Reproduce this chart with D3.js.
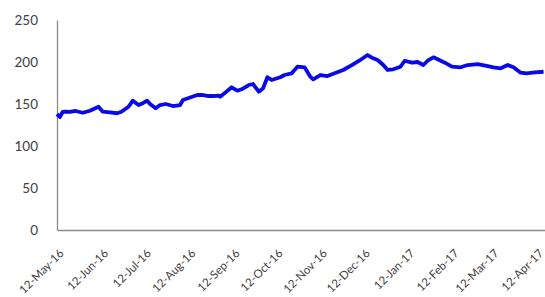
<!DOCTYPE html>
<html>
<head>
<meta charset="utf-8">
<script src="https://cdn.jsdelivr.net/npm/d3@7"></script>
<style>
  body { margin: 0; background: #fff; }
  svg text { font-family: Lato, "Open Sans", sans-serif; }
</style>
</head>
<body>
<svg width="545" height="297"></svg>
<script>
// dates and prices
const dates = [
  "2016-05-12","2016-05-14","2016-05-16","2016-05-18","2016-05-21","2016-05-25","2016-05-30",
  "2016-06-04","2016-06-10","2016-06-13","2016-06-18","2016-06-23","2016-06-26",
  "2016-07-01","2016-07-04","2016-07-08","2016-07-11","2016-07-14","2016-07-16","2016-07-20","2016-07-23","2016-07-27",
  "2016-08-01","2016-08-06","2016-08-08","2016-08-13","2016-08-18","2016-08-22","2016-08-26","2016-08-29",
  "2016-09-02","2016-09-03","2016-09-06","2016-09-11","2016-09-15","2016-09-18","2016-09-23","2016-09-26","2016-09-30",
  "2016-10-03","2016-10-06","2016-10-09","2016-10-15","2016-10-18","2016-10-23","2016-10-27",
  "2016-11-01","2016-11-05","2016-11-07","2016-11-12","2016-11-17","2016-11-22","2016-11-28",
  "2016-12-04","2016-12-10","2016-12-15","2016-12-19","2016-12-22","2016-12-26","2016-12-29",
  "2017-01-02","2017-01-07","2017-01-10","2017-01-15","2017-01-19","2017-01-23","2017-01-26","2017-01-30",
  "2017-02-02","2017-02-07","2017-02-12","2017-02-18","2017-02-23",
  "2017-03-02","2017-03-09","2017-03-13","2017-03-18","2017-03-23","2017-03-27",
  "2017-04-01","2017-04-05","2017-04-11","2017-04-17"
];
const values = [
  138,134.5,140.5,141,140.5,141.7,139.6,
  142,146.8,140.8,140,139,140.8,
  146.8,154,148.8,151,154,150,145,148.8,150,
  147.6,148.8,154.8,157.7,160.7,160.7,159.5,159.5,
  160,158.7,162.7,169.9,165.8,167.5,172.6,173.8,164.6,
  168.7,181.8,178.6,181.8,184.5,186.5,194.4,
  193.7,182.5,179.4,184.5,183.3,186.5,190.5,
  196.4,202.4,208.3,204.4,202.4,196.4,190.5,
  191.3,194.4,201.5,199.2,200,196.4,201.5,205.6,
  203.2,199.2,194.4,193.7,196.4,
  197.6,195.2,193.7,192.5,196.4,193.7,
  187.3,186.5,187.7,188.4
];
const tickDates = [
  "2016-05-12","2016-06-12","2016-07-12","2016-08-12","2016-09-12","2016-10-12",
  "2016-11-12","2016-12-12","2017-01-12","2017-02-12","2017-03-12","2017-04-12"
];
const yTicks = [0, 50, 100, 150, 200, 250];

const parse = d3.timeParse("%Y-%m-%d");
const fmt = d3.timeFormat("%d-%b-%y");
const data = dates.map((d, i) => ({ date: parse(d), value: values[i] }));

const svg = d3.select("svg");
const margin = { top: 20, right: 0, bottom: 67, left: 57 };
const width = +svg.attr("width") - margin.left - margin.right;
const height = +svg.attr("height") - margin.top - margin.bottom;
const g = svg.append("g").attr("transform", "translate(" + margin.left + "," + margin.top + ")");

const x = d3.scaleTime()
  .domain([parse("2016-05-12"), parse("2017-04-18")])
  .range([0, width]);
const y = d3.scaleLinear().domain([0, 250]).range([height, 0]);

// y axis: labels only, plus the grey line
const yAxis = g.append("g")
  .call(d3.axisLeft(y).tickValues(yTicks).tickSize(0).tickPadding(19));
yAxis.select(".domain").attr("stroke", "#8c8c8c").attr("stroke-width", 1.3);
yAxis.selectAll("text").attr("fill", "#404040").style("font-size", "13.5px");

// x axis
const xAxis = g.append("g")
  .attr("transform", "translate(0," + height + ")")
  .call(d3.axisBottom(x).tickValues(tickDates.map(parse)).tickFormat(fmt).tickSize(0));
xAxis.select(".domain").attr("stroke", "#8c8c8c").attr("stroke-width", 1.3);
xAxis.selectAll("text")
  .attr("fill", "#404040")
  .style("font-size", "11.5px")
  .attr("text-anchor", "end")
  .attr("dy", null)
  .attr("y", 0)
  .attr("transform", "translate(7,24) rotate(-45)");

const line = d3.line()
  .x(d => x(d.date))
  .y(d => y(d.value));

g.append("path")
  .datum(data)
  .attr("fill", "none")
  .attr("stroke", "#0808e8")
  .attr("stroke-width", 3.8)
  .attr("stroke-linejoin", "round")
  .attr("d", line);
</script>
</body>
</html>
